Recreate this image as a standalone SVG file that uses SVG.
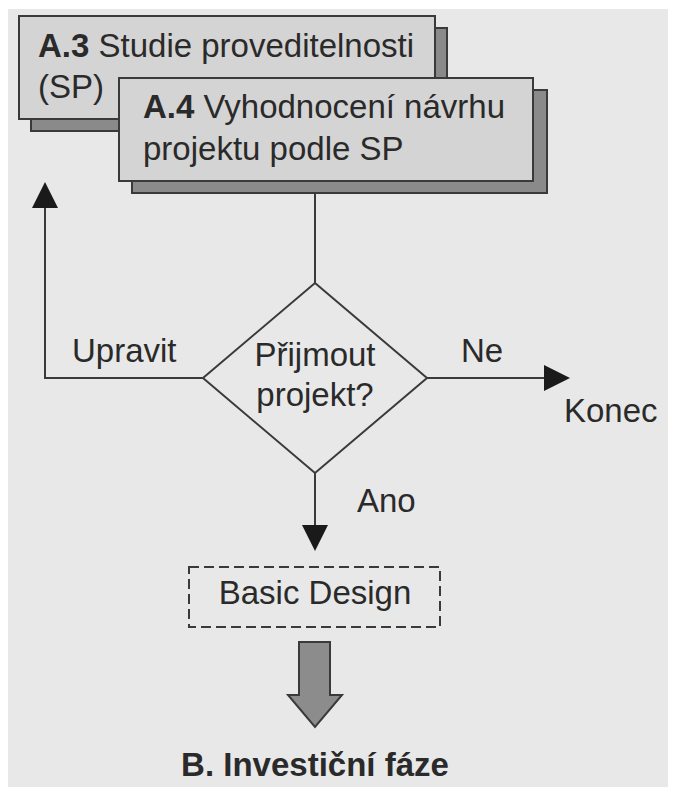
<svg xmlns="http://www.w3.org/2000/svg" width="673" height="787" viewBox="0 0 673 787">
<style>
text{font-family:"Liberation Sans",Arial,sans-serif;fill:#2a2a2a;font-size:33px}
.b{font-weight:bold}
.box{fill:#d4d4d4;stroke:#3a3a3a;stroke-width:2}
.sh{fill:#8a8a8a;stroke:#3a3a3a;stroke-width:2}
.ln{fill:none;stroke:#3a3a3a;stroke-width:2}
.ah{fill:#1a1a1a}
</style>
<rect x="0" y="0" width="673" height="787" fill="#ffffff"/>
<rect x="8" y="9" width="660" height="778" fill="#e8e8e8"/>
<g id="connectors">
<line class="ln" x1="315" y1="193" x2="315" y2="283"/>
<polyline class="ln" points="203,378 45,378 45,206"/>
<path class="ah" d="M45,182 L32,208 L58,208 Z"/>
<line class="ln" x1="427" y1="378" x2="546" y2="378"/>
<path class="ah" d="M570,378 L544,365 L544,391 Z"/>
<line class="ln" x1="315" y1="473" x2="315" y2="528"/>
<path class="ah" d="M315,551 L302,525 L328,525 Z"/>
</g>
<g id="a3">
<rect class="sh" x="31" y="28" width="416" height="103"/>
<rect class="box" x="19" y="16" width="416" height="103"/>
<text x="38" y="57" font-size="33.5"><tspan class="b">A.3</tspan> Studie proveditelnosti</text>
<text x="38" y="98" font-size="33.5">(SP)</text>
</g>
<g id="a4">
<rect class="sh" x="132" y="90" width="415" height="103"/>
<rect class="box" x="119" y="78" width="414" height="103"/>
<text x="143" y="118" font-size="33.5"><tspan class="b">A.4</tspan> Vyhodnocení návrhu</text>
<text x="143" y="160" font-size="33.5">projektu podle SP</text>
</g>
<g id="decision">
<polygon points="315,283 427,378 315,473 203,378" fill="#e8e8e8" stroke="#3a3a3a" stroke-width="2"/>
<text x="315" y="366" text-anchor="middle">Přijmout</text>
<text x="315" y="406" text-anchor="middle">projekt?</text>
</g>
<g id="labels">
<text x="72" y="362">Upravit</text>
<text x="461" y="362">Ne</text>
<text x="564" y="422">Konec</text>
<text x="357" y="512">Ano</text>
</g>
<g id="basic">
<rect x="189" y="567" width="251" height="60" fill="none" stroke="#3a3a3a" stroke-width="2" stroke-dasharray="10,5"/>
<text x="315" y="604" text-anchor="middle">Basic Design</text>
</g>
<g id="bigarrow">
<path d="M299,642 L330,642 L330,695 L342,695 L315,727 L288,695 L299,695 Z" fill="#8c8c8c" stroke="#3a3a3a" stroke-width="2"/>
</g>
<g id="phase">
<text class="b" x="315" y="776" text-anchor="middle" font-size="31.5">B. Investiční fáze</text>
</g>
</svg>
